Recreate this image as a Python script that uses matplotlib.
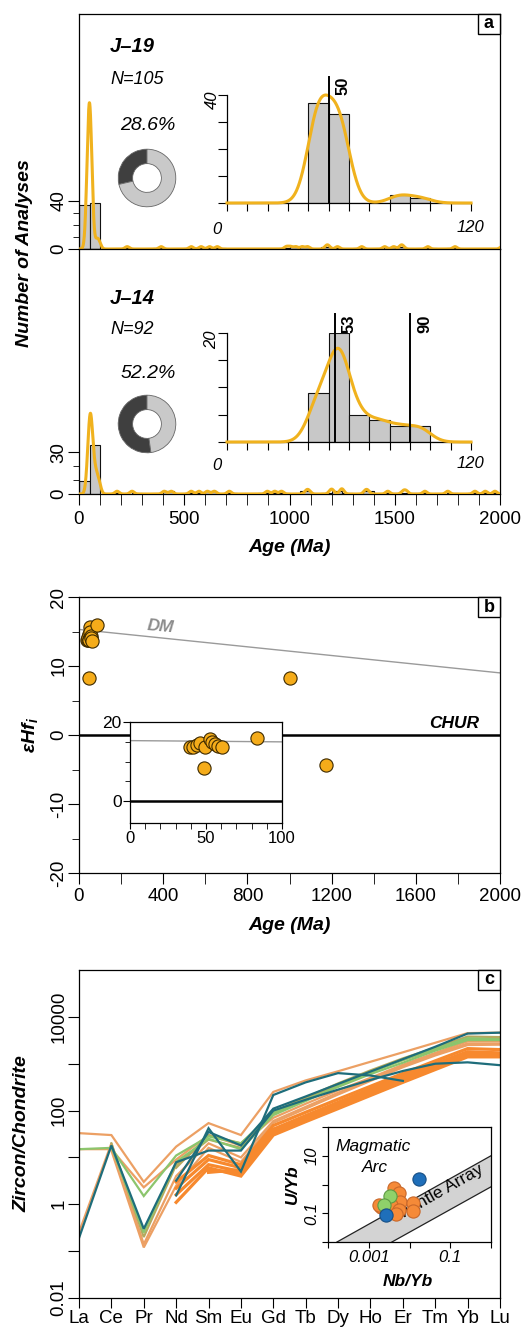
import numpy as np
import matplotlib
matplotlib.use("Agg")
import matplotlib.pyplot as plt
from matplotlib.patches import Rectangle
from matplotlib.ticker import NullLocator

plt.rcParams["font.family"] = ["Liberation Sans", "DejaVu Sans"]
plt.rcParams["mathtext.fontset"] = "custom"
plt.rcParams["mathtext.rm"] = "Liberation Sans"
plt.rcParams["mathtext.it"] = "Liberation Sans:italic:bold"
plt.rcParams["mathtext.bf"] = "Liberation Sans:bold"
plt.rcParams["axes.linewidth"] = 0.9

nan = np.nan

# ---------------- (a) detrital zircon U-Pb ages ----------------
young_edges = [0, 10, 20, 30, 40, 50, 60, 70, 80, 90, 100, 110, 120]
j19_young_counts = [0, 0, 0, 0, 37, 33, 0, 0, 3, 2, 0, 0]
j14_young_counts = [0, 0, 0, 0, 9, 20, 5, 4, 3, 3, 0, 0]
j19_old_ages = [229, 390, 533, 580, 620, 657, 985, 1005, 1030, 1060, 1086,
                1175, 1185, 1228, 1343, 1452, 1495, 1528, 1538, 1657, 1786,
                2010, 2150, 2300, 2450, 2520, 2700, 2850, 3000, 3200]
j14_old_ages = [181, 252, 405, 438, 533, 570, 610, 643, 714, 895, 930, 962,
                1080, 1092, 1195, 1205, 1245, 1252, 1360, 1372, 1467, 1540,
                1555, 1643, 1752, 1881, 1930, 1976,
                2050, 2100, 2180, 2250, 2320, 2400, 2480, 2550, 2620, 2700,
                2750, 2800, 2880, 2950, 3050, 3150, 3250, 3400, 3600, 3900]
j19_peaks = [50]
j14_peaks = [53, 90]
# heights of the density curves (count units of each axis)
j19_kde_peak_main, j19_kde_peak_inset = 122, 40
j14_kde_peak_main, j14_kde_peak_inset = 58, 17.2

# ---------------- (b) zircon Hf isotopes ----------------
hf_age = [39.5, 41.6, 44, 46, 49.3, 52.6, 54, 56, 58, 60.3, 48.7, 83.3, 1000, 1175]
hf_eps = [13.7, 13.7, 14.2, 14.6, 13.7, 15.6, 14.9, 14.4, 14.0, 13.6, 8.3, 15.9, 8.3, -4.4]
dm_age = [0, 2000]
dm_eps = [15.3, 9.0]

# ---------------- (c) chondrite-normalised REE ----------------
ree = ["La", "Ce", "Pr", "Nd", "Sm", "Eu", "Gd", "Tb", "Dy", "Ho", "Er", "Tm", "Yb", "Lu"]
ree_tan = [
    [33, 30, 3.0, 17, 54, 30, 250, 440, 690, 1100, 1750, 2800, 4500, 4600],
    [15, 15, 2.3, 9, 30, 18, 70, 140, 270, 500, 950, 1700, 3000, 3000],
    [0.25, 20, 0.14, 4, 20, 10, 60, 120, 240, 460, 880, 1600, 2700, 2700],
    [nan, 14, 0.12, 2.5, 16, 8, 55, 110, 220, 430, 840, 1500, 2500, 2550],
]
ree_olive = [
    [nan, 20, 0.2, 7, 24, 16, 95, 190, 380, 720, 1300, 2200, 3800, 3700],
    [nan, nan, nan, 6, 30, 20, 85, 175, 350, 680, 1200, 2000, 3400, 3400],
]
ree_green = [
    [15, 16, 1.5, 11, 28, 20, 90, 170, 320, 600, 1050, 1900, 3200, 3200],
    [nan, 17, 0.25, 8, 25, 15, 80, 160, 330, 650, 1200, 2100, 3500, 3300],
]
ree_orange = [
    [nan, nan, nan, 1.1, 6, 4, 30, 58, 110, 210, 400, 750, 1400, 1400],
    [nan, nan, nan, 1.6, 7, 5, 35, 68, 130, 250, 470, 880, 1600, 1550],
    [nan, nan, nan, 2.2, 9, 6, 40, 78, 150, 290, 550, 1000, 1800, 1700],
    [nan, nan, nan, nan, 4.8, 5.5, 38, 75, 145, 280, 540, 980, 1750, 1650],
    [nan, nan, nan, 3.0, 11, 7, 48, 92, 175, 330, 620, 1150, 2100, 2000],
    [nan, nan, nan, nan, 5.5, 4.5, 33, 64, 122, 235, 450, 840, 1500, 1450],
]
ree_teal = [
    [0.19, 18, 0.3, 7.9, 14, 14, 100, 170, 280, 450, 700, 1000, 1070, 930],
    [nan, nan, nan, 1.55, 42, 5.0, 215, 400, 630, 560, 430, nan, nan, nan],
    [nan, nan, nan, 3.2, 35, 18, 110, 200, 370, 680, 1250, 2300, 4400, 4600],
]

# Nb/Yb vs U/Yb discrimination
nbyb_orange = [0.0042, 0.0056, 0.006, 0.0035, 0.002, 0.0056, 0.012, 0.012, 0.0047, 0.0018]
uyb_orange = [0.74, 0.49, 0.25, 0.19, 0.17, 0.126, 0.22, 0.12, 0.098, 0.19]
nbyb_green = [0.0033, 0.0024]
uyb_green = [0.41, 0.19]
nbyb_blue = [0.017, 0.0027]
uyb_blue = [1.56, 0.085]
mantle_x = [1.66e-4, 1.0, 1.0, 3.7e-3]
mantle_y = [0.01, 10.0, 0.83, 0.01]

# ---------------------------------------------------------------
W, H = 527, 1333
fig = plt.figure(figsize=(W / 100, H / 100), dpi=100)

HIST_FC = "#c8c8c8"
KDE_C = "#F0B21E"
FS = 13.5


def px_axes(x0, y0, x1, y1, **kw):
    return fig.add_axes([x0 / W, 1 - y1 / H, (x1 - x0) / W, (y1 - y0) / H], **kw)


def ftext(x, y, s, **kw):
    fig.text(x / W, 1 - y / H, s, **kw)


def tag(ax, s, w_px=22, h_px=20):
    bb = ax.get_position()
    aw, ah = bb.width * W, bb.height * H
    fw, fh = w_px / aw, h_px / ah
    ax.add_patch(Rectangle((1 - fw, 1 - fh), fw, fh, transform=ax.transAxes,
                           fc="white", ec="black", lw=1.0, zorder=20, clip_on=False))
    ax.text(1 - fw / 2, 1 - fh / 2, s, transform=ax.transAxes, ha="center",
            va="center", fontsize=13, fontweight="bold", zorder=21)


def kde(xs, ages, weights, bw, peak):
    a = np.asarray(ages, float)
    w = np.asarray(weights, float)
    d = (w[None, :] * np.exp(-0.5 * ((xs[:, None] - a[None, :]) / bw) ** 2)).sum(axis=1)
    return d / d.max() * peak


centers = np.asarray(young_edges[:-1], float) + 5


def age_panel(ax, counts, old, peak_main, ymax, ymajor, yminor):
    ages = np.concatenate([np.repeat(centers, counts), old])
    ax.hist(ages, bins=np.arange(0, 2001, 50), color=HIST_FC, edgecolor="#111111",
            linewidth=0.8, zorder=2)
    xs = np.linspace(0, 2000, 4001)
    ax.plot(xs, kde(xs, np.concatenate([centers, old]),
                    np.concatenate([counts, np.ones(len(old))]), 10, peak_main),
            color=KDE_C, lw=2.2, zorder=3)
    ax.set_xlim(0, 2000)
    ax.set_ylim(0, ymax)
    ax.set_yticks(ymajor)
    ax.set_yticklabels([str(v) for v in ymajor], rotation=90, va="center", fontsize=FS)
    ax.set_yticks(yminor, minor=True)
    ax.tick_params(axis="y", which="major", length=8, pad=0.5, direction="out")
    ax.tick_params(axis="y", which="minor", length=4.5, direction="out")


def age_inset(ax, counts, peaks, peak_kde, ymax, ystep, line_top, lab_dx):
    ax.set_facecolor("none")
    ax.bar(young_edges[:-1], counts, width=10, align="edge", color=HIST_FC,
           edgecolor="#111111", linewidth=0.8, zorder=2)
    xs = np.linspace(0, 120, 1201)
    ax.plot(xs, kde(xs, centers, counts, 5.5, peak_kde), color=KDE_C, lw=2.2, zorder=3,
            clip_on=False)
    for p in peaks:
        ax.plot([p, p], [0, line_top], color="black", lw=1.4, zorder=4, clip_on=False)
        ax.text(p + lab_dx, line_top, str(p), rotation=90, ha="left", va="top",
                fontsize=12, fontweight="bold", zorder=5)
    ax.set_xlim(0, 120)
    ax.set_ylim(0, ymax)
    ax.spines[["top", "right"]].set_visible(False)
    ax.set_xticks(np.arange(0, 121, 10))
    ax.set_yticks(np.arange(0, ymax + 0.1, ystep))
    ax.set_xticklabels([])
    ax.set_yticklabels([])
    ax.tick_params(axis="x", length=6, direction="out")
    ax.tick_params(axis="y", length=6.5, direction="out")


def donut(ax, pct):
    ax.pie([pct, 100 - pct], colors=["#3f3f3f", "#c9c9c9"], startangle=90,
           counterclock=True, wedgeprops=dict(width=0.5, edgecolor="#666666", linewidth=0.6))
    ax.set_aspect("equal")


# ---- panel a, J-19 ----
a1 = px_axes(79, 14, 500, 249)
age_panel(a1, j19_young_counts, j19_old_ages, j19_kde_peak_main, 196, [0, 40], [10, 20, 30])
a1.tick_params(axis="x", which="both", bottom=False, labelbottom=False)
tag(a1, "a")

# ---- panel a, J-14 ----
a2 = px_axes(79, 249, 500, 494)
age_panel(a2, j14_young_counts, j14_old_ages, j14_kde_peak_main, 176, [0, 30], [10, 20])
a2.set_xticks([0, 500, 1000, 1500, 2000])
a2.set_xticklabels(["0", "500", "1000", "1500", "2000"], fontsize=FS)
a2.set_xticks(np.arange(0, 2001, 100), minor=True)
a2.tick_params(axis="x", which="both", length=8, pad=4, direction="out")

# sample labels, grain counts and share of pre-Cenozoic grains
for name, counts, old, y0, dy_pct in [("J–19", j19_young_counts, j19_old_ages, 0, 0),
                                      ("J–14", j14_young_counts, j14_old_ages, 251, -4)]:
    n_tot = sum(counts) + len(old)
    pct = 100.0 * len(old) / n_tot
    ftext(110, 47 + y0, name, fontsize=14.5, fontweight="bold", fontstyle="italic",
          ha="left", va="center")
    ftext(110, 79 + y0, f"N={n_tot}", fontsize=13, fontstyle="italic", ha="left", va="center")
    ftext(148, 126 + y0 + dy_pct, f"{pct:.1f}%", fontsize=14,
          fontstyle="italic", ha="center", va="center")

d1 = px_axes(111, 142, 183, 214)
donut(d1, 100.0 * len(j19_old_ages) / (sum(j19_young_counts) + len(j19_old_ages)))
d2 = px_axes(111, 388, 183, 460)
donut(d2, 100.0 * len(j14_old_ages) / (sum(j14_young_counts) + len(j14_old_ages)))

i1 = px_axes(227, 95, 471, 203)
age_inset(i1, j19_young_counts, j19_peaks, j19_kde_peak_inset, 40, 10, 46.7, 3.5)
i2 = px_axes(227, 333, 471, 442)
age_inset(i2, j14_young_counts, j14_peaks, j14_kde_peak_inset, 20, 5, 23.4, 3.5)
for yy, top_lab, ytop in [(230, "40", 100), (466, "20", 340)]:
    ftext(217, yy, "0", fontsize=12, fontstyle="italic", ha="center", va="center")
    ftext(470, yy - 2, "120", fontsize=12, fontstyle="italic", ha="center", va="center")
    ftext(212, ytop, top_lab, fontsize=12, fontstyle="italic", rotation=90,
          ha="center", va="center")

ftext(25, 253, "Number of Analyses", fontsize=14, fontweight="bold", fontstyle="italic",
      rotation=90, ha="center", va="center")
ftext(290, 548, "Age (Ma)", fontsize=14, fontweight="bold", fontstyle="italic",
      ha="center", va="center")

# ---- panel b ----
b = px_axes(79, 597, 500, 873)
b.axhline(0, color="black", lw=1.8, zorder=2)
b.plot(dm_age, dm_eps, color="#9a9a9a", lw=1.0, zorder=2)
b.plot(hf_age, hf_eps, "o", ms=9.5, mfc="#F5AC1A", mec="#3d2a00", mew=0.8, zorder=5)
b.set_xlim(0, 2000)
b.set_ylim(-20, 20)
b.set_xticks(np.arange(0, 2001, 400))
b.set_xticklabels([str(v) for v in range(0, 2001, 400)], fontsize=FS)
b.set_xticks(np.arange(200, 2000, 400), minor=True)
b.set_yticks([-20, -10, 0, 10, 20])
b.set_yticklabels(["-20", "-10", "0", "10", "20"], rotation=90, va="center", fontsize=FS)
b.set_yticks([-15, -5, 5, 15], minor=True)
b.tick_params(axis="x", which="both", length=8, pad=2.5, direction="out")
b.tick_params(axis="y", which="major", length=8, pad=0.5, direction="out")
b.tick_params(axis="y", which="minor", length=5, direction="out")
b.text(385, 15.7, "DM", color="#8c8c8c", fontsize=12.5, fontweight="bold",
       fontstyle="italic", ha="center", va="center", rotation=-5)
b.text(1900, 0.6, "CHUR", color="black", fontsize=12.5, fontweight="bold",
       fontstyle="italic", ha="right", va="bottom")
tag(b, "b")
ftext(30, 735, "εHf$_i$", fontsize=14, fontweight="bold", fontstyle="italic",
      rotation=90, ha="center", va="center")
ftext(290, 925, "Age (Ma)", fontsize=14, fontweight="bold", fontstyle="italic",
      ha="center", va="center")

bi = px_axes(130, 722, 282, 823)
bi.set_facecolor("white")
bi.axhline(0, color="black", lw=1.8, zorder=2)
bi.plot(dm_age, dm_eps, color="#9a9a9a", lw=1.0, zorder=2)
young = [(a, e) for a, e in zip(hf_age, hf_eps) if a <= 100]
bi.plot([p[0] for p in young], [p[1] for p in young], "o", ms=9.5, mfc="#F5AC1A",
        mec="#3d2a00", mew=0.8, zorder=5)
bi.set_xlim(0, 100)
bi.set_ylim(-5.5, 20)
bi.set_xticks([0, 50, 100])
bi.set_xticklabels(["0", "50", "100"], fontsize=12)
bi.set_xticks(np.arange(0, 101, 10), minor=True)
bi.set_yticks([0, 20])
bi.set_yticklabels(["0", "20"], fontsize=12.5)
bi.set_yticks([5, 10, 15], minor=True)
bi.tick_params(axis="x", which="both", length=4, pad=1.5, direction="out")
bi.tick_params(axis="y", which="major", length=5, pad=1, direction="out")
bi.tick_params(axis="y", which="minor", length=3.5, direction="out")

# ---- panel c ----
c = px_axes(79, 970, 500, 1298)
x_ree = np.arange(len(ree))
for group, col, lw in [(ree_tan, "#ECA064", 1.6), (ree_olive, "#B5A95E", 1.6),
                       (ree_green, "#8CC56D", 1.6), (ree_orange, "#F7892E", 2.3),
                       (ree_teal, "#1E6D7B", 1.6)]:
    for vals in group:
        c.plot(x_ree, vals, color=col, lw=lw, solid_joinstyle="miter")
c.set_yscale("log")
c.set_ylim(0.01, 1e5)
c.set_xlim(0, 13)
c.set_xticks(x_ree)
c.set_xticklabels(ree, fontsize=FS)
c.set_yticks([0.01, 0.1, 1, 10, 100, 1000, 10000])
c.set_yticklabels(["0.01", "", "1", "", "100", "", "10000"], rotation=90, va="center",
                  fontsize=FS)
c.yaxis.set_minor_locator(NullLocator())
c.tick_params(axis="x", length=7.5, pad=1, direction="out")
c.tick_params(axis="y", length=8, pad=0.5, direction="out")
tag(c, "c")
ftext(22, 1134, "Zircon/Chondrite", fontsize=14, fontweight="bold", fontstyle="italic",
      rotation=90, ha="center", va="center")

ci = px_axes(328, 1127, 491, 1242)
ci.set_facecolor("white")
ci.set_xscale("log")
ci.set_yscale("log")
ci.set_xlim(1e-4, 1)
ci.set_ylim(0.01, 100)
ci.fill(mantle_x, mantle_y, color="#d3d3d3", lw=0, zorder=1)
ci.plot(mantle_x[:2], mantle_y[:2], color="#222222", lw=0.9, zorder=2)
ci.plot(mantle_x[2:], mantle_y[2:], color="#222222", lw=0.9, zorder=2)
ci.plot(nbyb_orange, uyb_orange, "o", ms=9.5, mfc="#F58A38", mec="#c9682a", mew=0.8, zorder=4)
ci.plot(nbyb_green, uyb_green, "o", ms=9.5, mfc="#8FD16A", mec="#5e9a43", mew=0.8, zorder=5)
ci.plot(nbyb_blue, uyb_blue, "o", ms=9.5, mfc="#1F6FBA", mec="#174f85", mew=0.8, zorder=6)
ci.set_xticks([1e-4, 1e-3, 1e-2, 1e-1, 1])
ci.set_xticklabels(["", "0.001", "", "0.1", ""], fontsize=12, fontstyle="italic")
ci.set_yticks([0.01, 0.1, 1, 10, 100])
ci.set_yticklabels(["", "0.1", "", "10", ""], fontsize=12, fontstyle="italic",
                   rotation=90, va="center")
ci.xaxis.set_minor_locator(NullLocator())
ci.yaxis.set_minor_locator(NullLocator())
ci.tick_params(axis="both", length=4, pad=2, direction="out")
ci.text(0.275, 0.83, "Magmatic", transform=ci.transAxes, fontsize=12.5,
        fontstyle="italic", ha="center", va="center")
ci.text(0.29, 0.65, "Arc", transform=ci.transAxes, fontsize=12.5,
        fontstyle="italic", ha="center", va="center")
ci.text(0.685, 0.43, "Mantle Array", transform=ci.transAxes, fontsize=12.5,
        ha="center", va="center", rotation=29.5, rotation_mode="anchor", zorder=3)
ftext(408, 1281, "Nb/Yb", fontsize=12.5, fontweight="bold", fontstyle="italic",
      ha="center", va="center")
ftext(292, 1184, "U/Yb", fontsize=12.5, fontweight="bold", fontstyle="italic",
      rotation=90, ha="center", va="center")

fig.savefig("out.png", dpi=100)
